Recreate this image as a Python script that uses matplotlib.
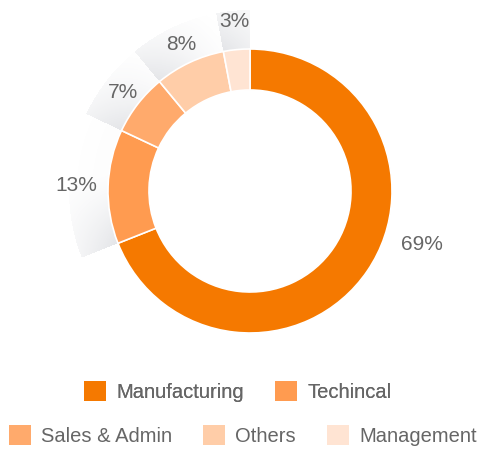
import numpy as np
import matplotlib
matplotlib.use("Agg")
import matplotlib.pyplot as plt
from matplotlib.patches import Patch

plt.rcParams["font.family"] = ["Liberation Sans", "DejaVu Sans"]

# data
labels = ["Manufacturing", "Techincal", "Sales & Admin", "Others", "Management"]
shares = [69, 13, 7, 8, 3]
colors = ["#f57900", "#ff9b50", "#ffaa6c", "#ffcda8", "#ffe4d3"]
text_color = "#666666"

W, H = 478, 450
fig = plt.figure(figsize=(W / 100, H / 100), dpi=100)
ax = fig.add_axes([0, 0, 1, 1])

cx, cy = 250, H - 191
r_out, r_in, r_shadow = 142, 101, 181

# slice angles (clockwise from 12 o'clock)
starts, ends = [], []
a = 90.0
for s in shares:
    starts.append(a)
    a -= 360.0 * s / sum(shares)
    ends.append(a)

# gray gradient "shadows" behind the small slice labels
xs = np.arange(W) + 0.5
ys = np.arange(H) + 0.5
X, Y = np.meshgrid(xs, ys)
dx, dy = X - cx, Y - cy
rr = np.hypot(dx, dy)
th = np.degrees(np.arctan2(dy, dx)) % 360
alpha = np.zeros_like(rr)
fade_deg = 28.0
for s, t1, t2 in zip(shares, starts, ends):
    if s > 50:
        continue
    span = t1 - t2
    dist = (t1 - th) % 360
    inside = (dist <= span) & (rr >= r_out) & (rr <= r_shadow)
    t_ang = np.clip(dist / fade_deg, 0, 1)
    t_rad = np.clip((rr - r_out) / (r_shadow - r_out), 0, 1)
    a_val = 0.22 * (1 - t_ang) ** 1.3 * (1 - 0.55 * t_rad) + 0.02 * (1 - t_rad)
    alpha = np.where(inside, a_val, alpha)
img = np.zeros((H, W, 4))
img[..., 0] = 0.55
img[..., 1] = 0.57
img[..., 2] = 0.62
img[..., 3] = alpha
ax.imshow(img, extent=(0, W, 0, H), origin="lower", zorder=0, interpolation="bilinear")

# donut
ax.pie(shares, colors=colors, startangle=90, counterclock=False,
       radius=r_out, center=(cx, cy),
       wedgeprops=dict(width=r_out - r_in, edgecolor="white", linewidth=1.2))

# percentage labels
label_radius = [180, 174, 161, 162, 170]
for s, t1, t2, lr in zip(shares, starts, ends, label_radius):
    mid = (t1 + t2) / 2
    if s > 50:
        mid += 17
    x = cx + lr * np.cos(np.radians(mid))
    y = cy + lr * np.sin(np.radians(mid))
    ax.text(x, y, f"{s}%", ha="center", va="center", fontsize=15,
            color=text_color, zorder=5)

ax.set_xlim(0, W)
ax.set_ylim(0, H)
ax.set_aspect("equal")
ax.axis("off")

# legend, two rows
handles = [Patch(facecolor=c, edgecolor="none") for c in colors]
leg_kw = dict(loc="center", frameon=False, fontsize=14.5, handlelength=1.1,
              handleheight=1.1, handletextpad=0.5, columnspacing=1.55,
              labelcolor=text_color)
leg1 = fig.legend(handles[:2], labels[:2], ncol=2,
                  bbox_to_anchor=(0.497, 1 - 391.5 / H), **leg_kw)
fig.add_artist(leg1)
fig.legend(handles[2:], labels[2:], ncol=3,
           bbox_to_anchor=(0.508, 1 - 435.5 / H), **leg_kw)

fig.savefig("out.png", dpi=100, facecolor="white")
